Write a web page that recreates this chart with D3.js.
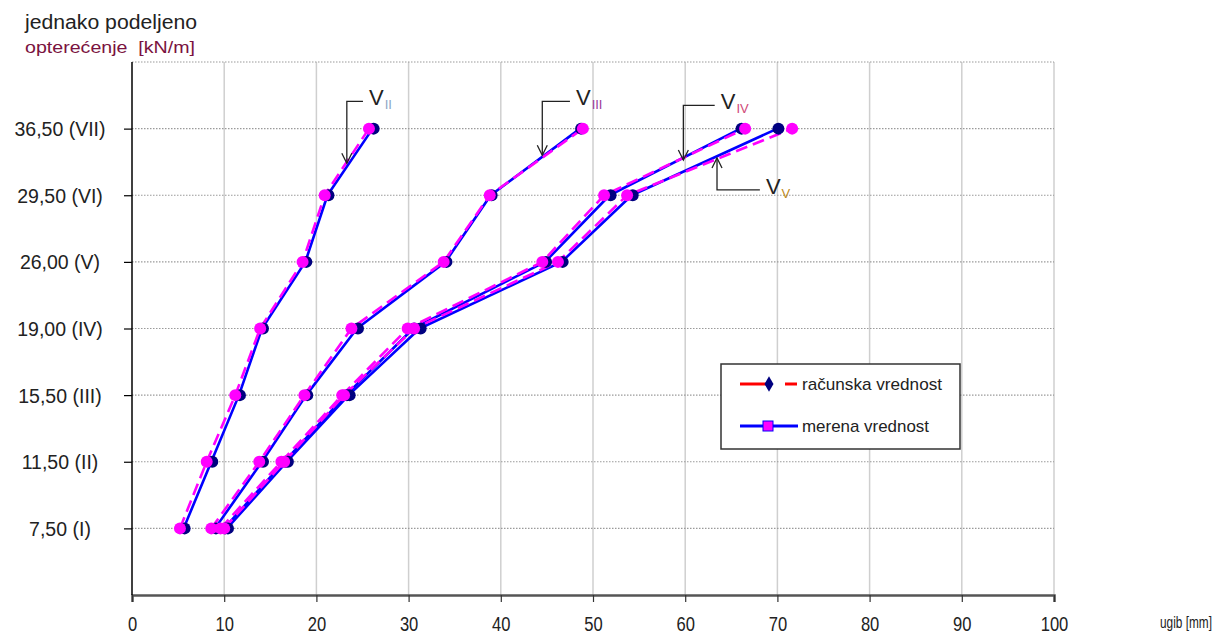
<!DOCTYPE html>
<html>
<head>
<meta charset="utf-8">
<script src="https://cdn.jsdelivr.net/npm/d3@7"></script>
<style>
  html, body { margin: 0; padding: 0; background: #fff; }
  svg { display: block; font-family: "Liberation Sans", Arial, sans-serif; }
</style>
</head>
<body>
<svg id="chart" width="1213" height="637"></svg>
<script>
// Load levels (category axis, bottom to top)
const loadLabels = ["7,50 (I)", "11,50 (II)", "15,50 (III)", "19,00 (IV)", "26,00 (V)", "29,50 (VI)", "36,50 (VII)"];
const xTicks = [0, 10, 20, 30, 40, 50, 60, 70, 80, 90, 100];

// Deflections [mm] per beam: measured (solid blue) and computed (dashed magenta)
const measuredII  = [5.6, 8.6, 11.6, 14.1, 18.8, 21.2, 26.1];
const computedII  = [5.2, 8.1, 11.2, 13.9, 18.5, 20.9, 25.7];
const measuredIII = [9.0, 14.1, 18.9, 24.4, 34.0, 38.9, 48.6];
const computedIII = [8.6, 13.8, 18.7, 23.8, 33.8, 38.8, 48.9];
const measuredIV  = [10.0, 16.5, 23.2, 30.5, 44.8, 51.8, 66.0];
const computedIV  = [9.6, 16.2, 22.8, 29.9, 44.5, 51.2, 66.5];
const measuredV   = [10.3, 16.8, 23.5, 31.2, 46.6, 54.2, 70.0];
const computedV   = [10.0, 16.5, 23.0, 30.6, 46.2, 53.7, 71.6];

// Beam labels with leader arrows: x in mm, y in load-level units
const annLabels = ["II", "III", "IV", "V"];
const annSubColor = ["#8da6c6", "#9b3b9b", "#d04a78", "#c08a20"];
const annElbowX = [23.3, 44.5, 59.8, 63.45];
const annElbowY = [7.41, 7.41, 7.35, 6.08];
const annTipY   = [6.48, 6.60, 6.53, 6.56];
const annEndX   = [25.05, 47.5, 63.2, 68.1];

const measured = [measuredII, measuredIII, measuredIV, measuredV];
const computed = [computedII, computedIII, computedIV, computedV];

const svg = d3.select("#chart");
const plotL = 132, plotR = 1054, plotT = 62, plotB = 595;

const x = d3.scaleLinear().domain([0, 100]).range([plotL, plotR]);
const y = d3.scalePoint().domain(loadLabels).range([plotB, plotT]).padding(1);
const yLevel = d3.scaleLinear().domain([0, loadLabels.length + 1]).range([plotB, plotT]);

// Grid: vertical solid, horizontal dotted
svg.append("g").selectAll("line").data(xTicks.slice(1)).join("line")
  .attr("x1", d => x(d)).attr("x2", d => x(d))
  .attr("y1", plotT).attr("y2", plotB)
  .attr("stroke", "#cfcfcf").attr("stroke-width", 1.5);

svg.append("g").selectAll("line").data(loadLabels).join("line")
  .attr("x1", plotL).attr("x2", plotR)
  .attr("y1", d => y(d)).attr("y2", d => y(d))
  .attr("stroke", "#9a9a9a").attr("stroke-width", 1.2).attr("stroke-dasharray", "1.5,1.5");

svg.append("line")
  .attr("x1", plotL).attr("x2", plotR).attr("y1", plotT).attr("y2", plotT)
  .attr("stroke", "#9a9a9a").attr("stroke-width", 1.2).attr("stroke-dasharray", "1.5,1.5");

// X axis
const xAxis = svg.append("g").attr("transform", `translate(0,${plotB})`)
  .call(d3.axisBottom(x).tickValues(xTicks).tickSize(7).tickFormat(d3.format("d")));
xAxis.select(".domain").attr("stroke", "#555").attr("stroke-width", 2.5);
xAxis.selectAll(".tick line").attr("stroke", "#333").attr("stroke-width", 1.2);
xAxis.selectAll(".tick text")
  .attr("y", 0).attr("dy", 0)
  .attr("transform", "translate(0,36) scale(0.92,1.15)")
  .attr("font-size", 18).attr("fill", "#222")
  .attr("font-family", "Liberation Sans, Arial, sans-serif");

// Y axis
const yAxis = svg.append("g").attr("transform", `translate(${plotL},0)`)
  .call(d3.axisLeft(y).tickSize(8).tickSizeOuter(0));
yAxis.select(".domain").attr("stroke", "#000").attr("stroke-width", 1.5)
  .attr("d", `M0,${plotT}V${plotB}`);
yAxis.selectAll(".tick line").attr("stroke", "#000").attr("stroke-width", 1.2);
yAxis.selectAll(".tick text")
  .attr("x", -72).attr("text-anchor", "middle").attr("dy", "0.36em")
  .attr("font-size", 19.5).attr("fill", "#222")
  .attr("font-family", "Liberation Sans, Arial, sans-serif");

// Axis titles
svg.append("text").attr("x", 25).attr("y", 29)
  .attr("font-size", 20).attr("fill", "#222")
  .attr("textLength", 172).attr("lengthAdjust", "spacingAndGlyphs")
  .text("jednako podeljeno");
svg.append("text").attr("x", 25).attr("y", 53)
  .attr("font-size", 17).attr("fill", "#7a1240").attr("xml:space", "preserve")
  .attr("textLength", 170).attr("lengthAdjust", "spacingAndGlyphs")
  .text("opterećenje  [kN/m]");
svg.append("text")
  .attr("transform", "translate(1160,628) scale(0.74,1.05)")
  .attr("font-size", 16).attr("fill", "#222")
  .text("ugib [mm]");

// Series
const line = d3.line().x(d => x(d[0])).y(d => y(d[1]));
const toPts = arr => arr.map((v, i) => [v, loadLabels[i]]);

const gLines = svg.append("g");
measured.forEach(s => {
  gLines.append("path").datum(toPts(s)).attr("d", line)
    .attr("fill", "none").attr("stroke", "#0000ff").attr("stroke-width", 2.6)
    .attr("stroke-linejoin", "round");
});
computed.forEach(s => {
  gLines.append("path").datum(toPts(s)).attr("d", line)
    .attr("fill", "none").attr("stroke", "#ff00ff").attr("stroke-width", 2.6)
    .attr("stroke-dasharray", "12,6");
});

const gMarks = svg.append("g");
measured.forEach(s => {
  gMarks.selectAll(null).data(toPts(s)).join("circle")
    .attr("cx", d => x(d[0]) + 1).attr("cy", d => y(d[1]))
    .attr("r", 6).attr("fill", "#000080");
});
computed.forEach(s => {
  gMarks.selectAll(null).data(toPts(s)).join("circle")
    .attr("cx", d => x(d[0])).attr("cy", d => y(d[1]))
    .attr("r", 6).attr("fill", "#ff00ff");
});

// Beam labels and leader arrows
const gAnn = svg.append("g");
annLabels.forEach((lab, i) => {
  const ex = x(annElbowX[i]), ey = yLevel(annElbowY[i]);
  const ty = yLevel(annTipY[i]), hx = x(annEndX[i]);
  const dir = ty > ey ? 1 : -1;
  gAnn.append("path")
    .attr("d", `M${hx},${ey}H${ex}V${ty}`)
    .attr("fill", "none").attr("stroke", "#222").attr("stroke-width", 1.3);
  gAnn.append("path")
    .attr("d", `M${ex - 5},${ty - dir * 10}L${ex},${ty}L${ex + 5},${ty - dir * 10}`)
    .attr("fill", "none").attr("stroke", "#222").attr("stroke-width", 1.3);
  const t = gAnn.append("text").attr("x", hx + 6).attr("y", ey + 4)
    .attr("font-size", 22).attr("fill", "#222");
  t.append("tspan").text("V");
  t.append("tspan").attr("font-size", 13).attr("dy", 4).attr("dx", 1)
    .attr("fill", annSubColor[i]).text(lab);
});

// Legend
const lg = svg.append("g");
lg.append("rect").attr("x", 721).attr("y", 364).attr("width", 239).attr("height", 85)
  .attr("fill", "#fff").attr("stroke", "#333").attr("stroke-width", 1.5);
lg.append("line").attr("x1", 740).attr("x2", 766).attr("y1", 384).attr("y2", 384)
  .attr("stroke", "#ff0000").attr("stroke-width", 3);
lg.append("line").attr("x1", 785).attr("x2", 797).attr("y1", 384).attr("y2", 384)
  .attr("stroke", "#ff0000").attr("stroke-width", 3);
lg.append("path").attr("d", d3.symbol(d3.symbolDiamond, 70)())
  .attr("transform", "translate(769,384)").attr("fill", "#000080");
lg.append("text").attr("x", 802).attr("y", 390).attr("font-size", 17).attr("fill", "#222")
  .attr("textLength", 140).attr("lengthAdjust", "spacingAndGlyphs")
  .text("računska vrednost");
lg.append("line").attr("x1", 740).attr("x2", 798).attr("y1", 426).attr("y2", 426)
  .attr("stroke", "#0000ff").attr("stroke-width", 3);
lg.append("rect").attr("x", 763).attr("y", 421).attr("width", 10).attr("height", 10)
  .attr("fill", "#ff00ff").attr("stroke", "#0000ff").attr("stroke-width", 1);
lg.append("text").attr("x", 802).attr("y", 432).attr("font-size", 17).attr("fill", "#222")
  .attr("textLength", 127).attr("lengthAdjust", "spacingAndGlyphs")
  .text("merena vrednost");
</script>
</body>
</html>
